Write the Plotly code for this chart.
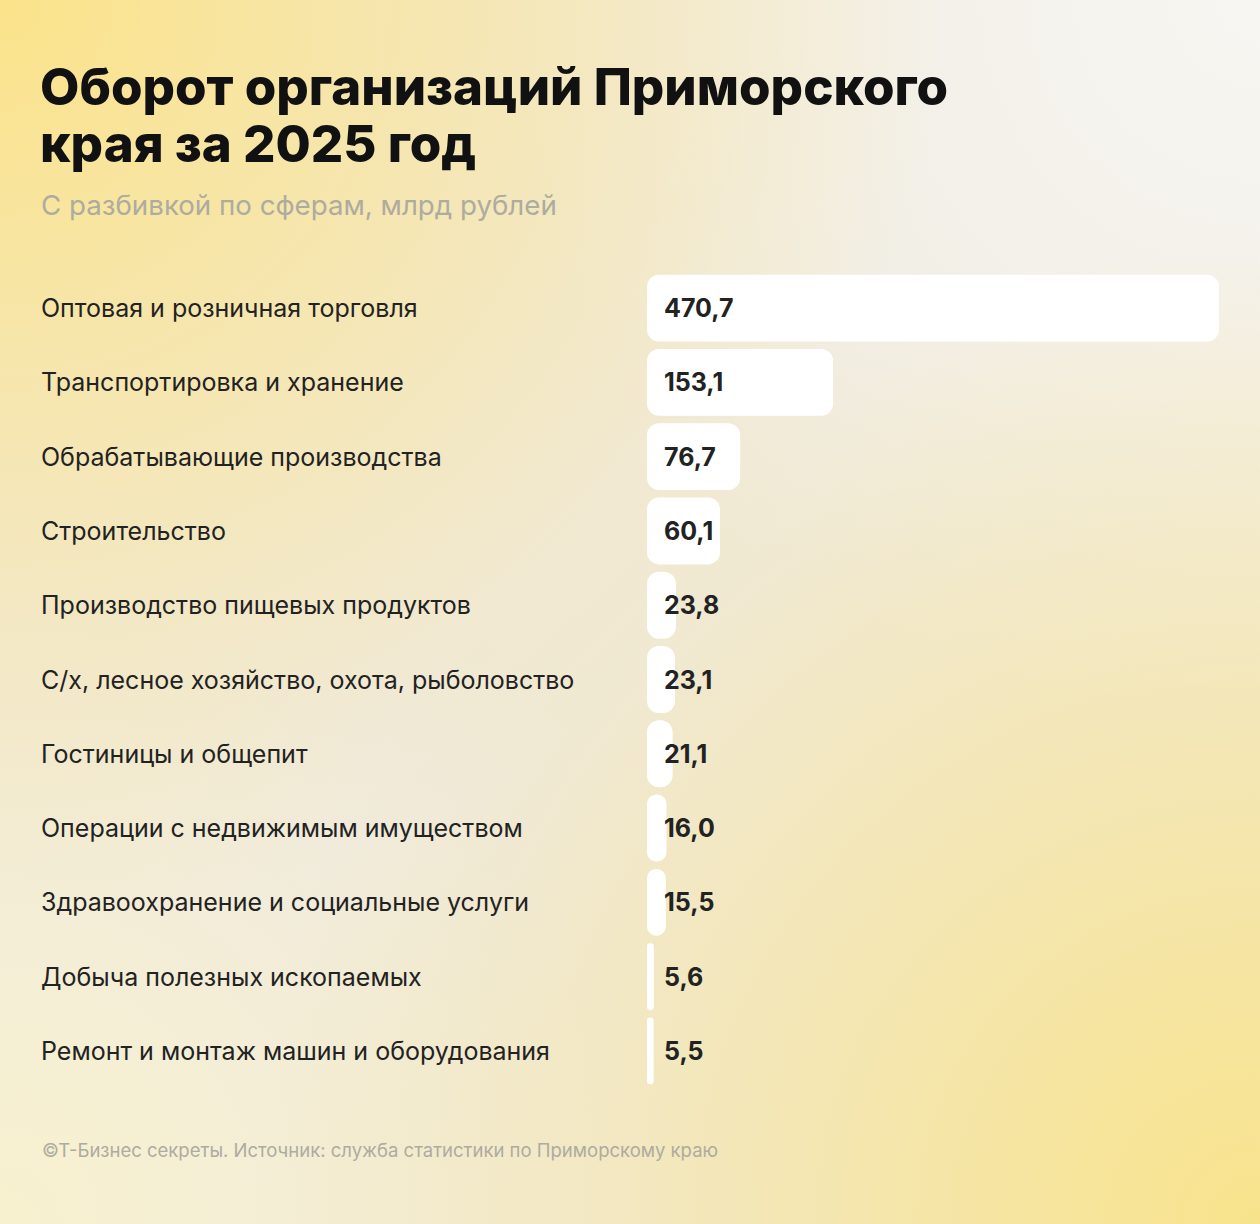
import base64
import plotly.graph_objects as go

categories = [
    "Оптовая и розничная торговля",
    "Транспортировка и хранение",
    "Обрабатывающие производства",
    "Строительство",
    "Производство пищевых продуктов",
    "С/х, лесное хозяйство, охота, рыболовство",
    "Гостиницы и общепит",
    "Операции с недвижимым имуществом",
    "Здравоохранение и социальные услуги",
    "Добыча полезных ископаемых",
    "Ремонт и монтаж машин и оборудования",
]
values = [470.7, 153.1, 76.7, 60.1, 23.8, 23.1, 21.1, 16.0, 15.5, 5.6, 5.5]
value_labels = ["470,7", "153,1", "76,7", "60,1", "23,8", "23,1", "21,1", "16,0", "15,5", "5,6", "5,5"]

title_lines = ["Оборот организаций Приморского", "края за 2025 год"]
subtitle_text = "С разбивкой по сферам, млрд рублей"
footer_text = "©Т-Бизнес секреты. Источник: служба статистики по Приморскому краю"

W, H = 1260, 1224
ML, MR, MT, MB = 647, 41, 271, 136
plot_w = W - ML - MR
plot_h = H - MT - MB


def px_x(px):
    return (px - ML) / plot_w


def px_y(px):
    return (MT + plot_h - px) / plot_h


svg = f"""<svg xmlns='http://www.w3.org/2000/svg' width='{W}' height='{H}' viewBox='0 0 {W} {H}'>
<defs>
<radialGradient id='a' cx='0' cy='0' r='0.75'>
<stop offset='0' stop-color='#FBE38A'/><stop offset='1' stop-color='#FBE38A' stop-opacity='0'/></radialGradient>
<radialGradient id='b' cx='1' cy='1' r='0.8'>
<stop offset='0' stop-color='#F8E38C'/><stop offset='1' stop-color='#F8E38C' stop-opacity='0'/></radialGradient>
<radialGradient id='c' cx='1' cy='0' r='0.6'>
<stop offset='0' stop-color='#F7F6F2'/><stop offset='1' stop-color='#F7F6F2' stop-opacity='0'/></radialGradient>
<radialGradient id='d' cx='0' cy='1' r='0.5'>
<stop offset='0' stop-color='#F8F1CF'/><stop offset='1' stop-color='#F8F1CF' stop-opacity='0'/></radialGradient>
</defs>
<rect width='100%' height='100%' fill='#EFEADF'/>
<rect width='100%' height='100%' fill='url(#c)'/>
<rect width='100%' height='100%' fill='url(#d)'/>
<rect width='100%' height='100%' fill='url(#a)'/>
<rect width='100%' height='100%' fill='url(#b)'/>
</svg>"""
bg_uri = "data:image/svg+xml;base64," + base64.b64encode(svg.encode()).decode()

fig = go.Figure()
fig.add_trace(go.Bar(
    x=values,
    base=[0] * len(values),
    y=categories,
    orientation="h",
    marker=dict(color="#FFFFFF", line=dict(width=0), cornerradius=12),
    width=0.9,
    hoverinfo="skip",
))

annotations = []
for cat, lab in zip(categories, value_labels):
    annotations.append(dict(
        x=0, y=cat, xref="x", yref="y", text=lab, showarrow=False,
        xanchor="left", yanchor="middle", xshift=15,
        font=dict(family="Inter", size=25, color="#222222", weight=700),
    ))
    annotations.append(dict(
        x=px_x(39), y=cat, xref="paper", yref="y", text=cat, showarrow=False,
        xanchor="left", yanchor="middle",
        font=dict(family="Inter", size=25, color="#222222"),
    ))

for i, line in enumerate(title_lines):
    annotations.append(dict(
        x=px_x(38), y=px_y(54 + 57 * i), xref="paper", yref="paper",
        text=line, showarrow=False, xanchor="left", yanchor="top", align="left",
        font=dict(family="Inter", size=51, color="#111111", weight=800),
    ))
annotations.append(dict(
    x=px_x(39), y=px_y(186), xref="paper", yref="paper",
    text=subtitle_text, showarrow=False, xanchor="left", yanchor="top", align="left",
    font=dict(family="Inter", size=27.7, color="#AEAB9F"),
))
annotations.append(dict(
    x=px_x(40), y=px_y(1137), xref="paper", yref="paper",
    text=footer_text, showarrow=False, xanchor="left", yanchor="top", align="left",
    font=dict(family="Inter", size=18.5, color="#AEAB9F"),
))

fig.update_layout(
    width=W, height=H,
    margin=dict(l=ML, r=MR, t=MT, b=MB),
    paper_bgcolor="rgba(0,0,0,0)",
    plot_bgcolor="rgba(0,0,0,0)",
    showlegend=False,
    xaxis=dict(range=[0, max(values)], visible=False, fixedrange=True),
    yaxis=dict(autorange="reversed", visible=False, fixedrange=True,
               categoryorder="array", categoryarray=categories),
    annotations=annotations,
    images=[dict(source=bg_uri, xref="paper", yref="paper",
                 x=px_x(0), y=px_y(0),
                 sizex=W / plot_w, sizey=H / plot_h,
                 xanchor="left", yanchor="top", sizing="stretch", layer="below")],
)

fig.write_html("out.html", config={"displayModeBar": False})
